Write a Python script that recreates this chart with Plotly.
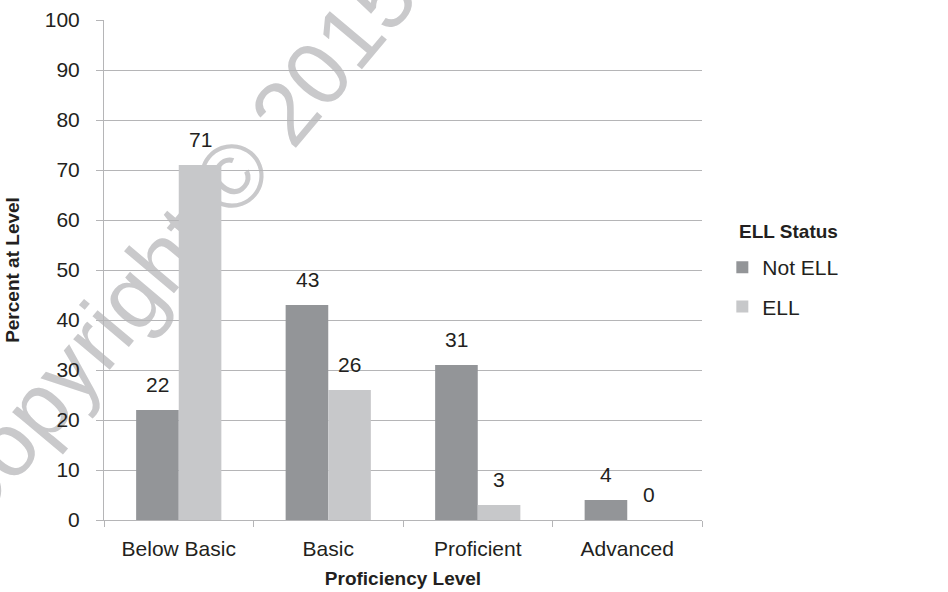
import plotly.graph_objects as go

# Proficiency results by English-learner status
levels = ["Below Basic", "Basic", "Proficient", "Advanced"]
not_ell = [22, 43, 31, 4]
ell = [71, 26, 3, 0]
series_names = ["Not ELL", "ELL"]
y_ticks = [0, 10, 20, 30, 40, 50, 60, 70, 80, 90, 100]

FONT = "Liberation Sans"
TEXT = "#231f20"
GRID = "#b5b5b7"
C_NOT = "#939598"
C_ELL = "#c7c8ca"
FS = 21

fig = go.Figure()
for name, vals, col, grp in [(series_names[0], not_ell, C_NOT, "a"),
                             (series_names[1], ell, C_ELL, "b")]:
    fig.add_trace(go.Bar(
        x=levels, y=vals, name=name, marker=dict(color=col, line=dict(width=0)),
        legendgroup=grp,
    ))

# value labels above each bar
bar_px = 42.5
for vals, shift in [(not_ell, -bar_px / 2), (ell, bar_px / 2)]:
    for lvl, v in zip(levels, vals):
        fig.add_annotation(
            x=lvl, y=v, xref="x", yref="y", text=str(v), showarrow=False,
            xshift=shift, yshift=12, yanchor="bottom",
            font=dict(family=FONT, size=FS, color=TEXT),
        )

# legend heading
fig.add_annotation(
    xref="paper", yref="paper", x=1.058, y=0.578, xanchor="left", yanchor="middle",
    text="<b>ELL Status</b>", showarrow=False,
    font=dict(family=FONT, size=19, color=TEXT),
)

# diagonal copyright mark, drawn underneath the grid, bars and labels
wx, wy = 0.103, 0.558
fig.add_shape(
    type="rect", xref="paper", yref="paper",
    x0=wx - 0.004, x1=wx + 0.004, y0=wy - 0.004, y1=wy + 0.004,
    line=dict(width=0), fillcolor="rgba(0,0,0,0)", layer="below",
    label=dict(
        text="Copyright © 2015", textangle=-50, textposition="middle center",
        font=dict(family=FONT, size=90, color="#c9c9cb"),
    ),
)

fig.update_layout(
    width=948, height=592,
    margin=dict(l=104, r=246, t=20, b=72, autoexpand=False),
    paper_bgcolor="white", plot_bgcolor="rgba(0,0,0,0)",
    barmode="group", bargap=0.43, bargroupgap=0,
    font=dict(family=FONT, size=FS, color=TEXT),
    showlegend=True,
    legend=dict(
        x=1.034, xanchor="left", y=0.546, yanchor="top",
        traceorder="grouped", tracegroupgap=9,
        font=dict(size=FS, color=TEXT), itemwidth=30,
        bgcolor="rgba(0,0,0,0)",
    ),
    xaxis=dict(
        title=dict(text="<b>Proficiency Level</b>", font=dict(size=19), standoff=12),
        showline=True, linecolor=GRID, linewidth=1,
        ticks="outside", tickson="boundaries", ticklen=6, tickcolor=GRID,
        showgrid=False, ticklabelstandoff=10, automargin=False,
    ),
    yaxis=dict(
        title=dict(text="<b>Percent at Level</b>", font=dict(size=19), standoff=20),
        range=[0, 100], tickvals=y_ticks,
        showline=True, linecolor=GRID, linewidth=1,
        ticks="outside", ticklen=7, tickcolor=GRID,
        showgrid=True, gridcolor=GRID, gridwidth=1, zeroline=False,
        ticklabelstandoff=12, automargin=False,
    ),
)

fig.write_html("out.html")
